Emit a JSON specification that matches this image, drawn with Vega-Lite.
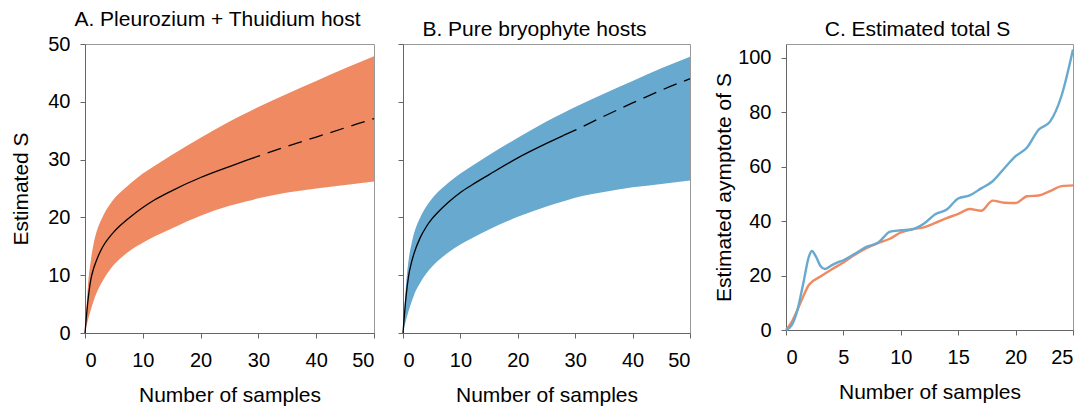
{
  "$schema": "https://vega.github.io/schema/vega-lite/v6.json",
  "padding": {"left": 10, "top": 8, "right": 5, "bottom": 0},
  "spacing": 19,
  "datasets": {
    "curves": [
      {"host": "A", "x": 0, "lo": 0, "mean": 0, "hi": 0},
      {"host": "A", "x": 0.5, "lo": 2.2, "mean": 5.5, "hi": 8},
      {"host": "A", "x": 1, "lo": 4, "mean": 9.2, "hi": 12.5},
      {"host": "A", "x": 1.5, "lo": 5.6, "mean": 11.2, "hi": 15.5},
      {"host": "A", "x": 2, "lo": 6.9, "mean": 12.6, "hi": 17.5},
      {"host": "A", "x": 3, "lo": 8.9, "mean": 14.8, "hi": 20},
      {"host": "A", "x": 4, "lo": 10.5, "mean": 16.3, "hi": 21.8},
      {"host": "A", "x": 5, "lo": 11.8, "mean": 17.5, "hi": 23.2},
      {"host": "A", "x": 6, "lo": 12.8, "mean": 18.5, "hi": 24.2},
      {"host": "A", "x": 8, "lo": 14.4, "mean": 20.2, "hi": 26},
      {"host": "A", "x": 10, "lo": 15.6, "mean": 21.7, "hi": 27.6},
      {"host": "A", "x": 12, "lo": 16.7, "mean": 23, "hi": 28.9},
      {"host": "A", "x": 15, "lo": 18.1, "mean": 24.6, "hi": 30.8},
      {"host": "A", "x": 20, "lo": 20.3, "mean": 26.9, "hi": 33.8},
      {"host": "A", "x": 25, "lo": 22, "mean": 28.8, "hi": 36.6},
      {"host": "A", "x": 28, "lo": 22.8, "mean": 29.9, "hi": 38.1},
      {"host": "A", "x": 30, "lo": 23.3, "mean": 30.6, "hi": 39.1},
      {"host": "A", "x": 35, "lo": 24.3, "mean": 32.3, "hi": 41.4},
      {"host": "A", "x": 40, "lo": 25, "mean": 33.9, "hi": 43.6},
      {"host": "A", "x": 45, "lo": 25.6, "mean": 35.5, "hi": 45.8},
      {"host": "A", "x": 50, "lo": 26.2, "mean": 37.1, "hi": 47.9},
      {"host": "B", "x": 0, "lo": 0, "mean": 0, "hi": 0},
      {"host": "B", "x": 0.5, "lo": 2.1, "mean": 6, "hi": 8},
      {"host": "B", "x": 1, "lo": 3.9, "mean": 10, "hi": 12.8},
      {"host": "B", "x": 1.5, "lo": 5.4, "mean": 12.3, "hi": 15.5},
      {"host": "B", "x": 2, "lo": 6.8, "mean": 14, "hi": 17.5},
      {"host": "B", "x": 3, "lo": 8.7, "mean": 16.5, "hi": 20},
      {"host": "B", "x": 4, "lo": 10.2, "mean": 18.3, "hi": 21.8},
      {"host": "B", "x": 5, "lo": 11.4, "mean": 19.7, "hi": 23.2},
      {"host": "B", "x": 6, "lo": 12.4, "mean": 20.8, "hi": 24.3},
      {"host": "B", "x": 8, "lo": 14, "mean": 22.7, "hi": 26.1},
      {"host": "B", "x": 10, "lo": 15.3, "mean": 24.3, "hi": 27.6},
      {"host": "B", "x": 12, "lo": 16.4, "mean": 25.6, "hi": 28.9},
      {"host": "B", "x": 15, "lo": 17.9, "mean": 27.4, "hi": 30.8},
      {"host": "B", "x": 20, "lo": 20.1, "mean": 30.3, "hi": 33.8},
      {"host": "B", "x": 25, "lo": 21.9, "mean": 32.8, "hi": 36.6},
      {"host": "B", "x": 28, "lo": 22.8, "mean": 34.2, "hi": 38.1},
      {"host": "B", "x": 30, "lo": 23.4, "mean": 35.1, "hi": 39.1},
      {"host": "B", "x": 35, "lo": 24.4, "mean": 37.5, "hi": 41.4},
      {"host": "B", "x": 40, "lo": 25.2, "mean": 39.8, "hi": 43.6},
      {"host": "B", "x": 45, "lo": 25.8, "mean": 42, "hi": 45.8},
      {"host": "B", "x": 50, "lo": 26.4, "mean": 44, "hi": 47.8}
    ],
    "asym": [
      {"host": "A", "x": 0, "S": 0},
      {"host": "A", "x": 0.5, "S": 3},
      {"host": "A", "x": 1, "S": 7.4},
      {"host": "A", "x": 1.5, "S": 12.3},
      {"host": "A", "x": 2, "S": 16.6},
      {"host": "A", "x": 3, "S": 19.6},
      {"host": "A", "x": 4, "S": 22.3},
      {"host": "A", "x": 5, "S": 24.8},
      {"host": "A", "x": 6, "S": 27.6},
      {"host": "A", "x": 7, "S": 30},
      {"host": "A", "x": 8, "S": 31.9},
      {"host": "A", "x": 9, "S": 33.4},
      {"host": "A", "x": 10, "S": 35.8},
      {"host": "A", "x": 11, "S": 37},
      {"host": "A", "x": 12, "S": 37.7},
      {"host": "A", "x": 13, "S": 39.3},
      {"host": "A", "x": 14, "S": 41.1},
      {"host": "A", "x": 15, "S": 42.6},
      {"host": "A", "x": 16, "S": 44.4},
      {"host": "A", "x": 17, "S": 43.8},
      {"host": "A", "x": 18, "S": 47.5},
      {"host": "A", "x": 19, "S": 46.7},
      {"host": "A", "x": 20, "S": 46.6},
      {"host": "A", "x": 21, "S": 49.1},
      {"host": "A", "x": 22, "S": 49.4},
      {"host": "A", "x": 23, "S": 51},
      {"host": "A", "x": 24, "S": 52.8},
      {"host": "A", "x": 25, "S": 53.1},
      {"host": "B", "x": 0, "S": 0},
      {"host": "B", "x": 0.5, "S": 1.8},
      {"host": "B", "x": 1, "S": 7.4},
      {"host": "B", "x": 1.5, "S": 17},
      {"host": "B", "x": 2, "S": 27},
      {"host": "B", "x": 2.25, "S": 29},
      {"host": "B", "x": 2.6, "S": 27},
      {"host": "B", "x": 3, "S": 23.5},
      {"host": "B", "x": 3.4, "S": 22.4},
      {"host": "B", "x": 4, "S": 23.8},
      {"host": "B", "x": 4.5, "S": 24.8},
      {"host": "B", "x": 5, "S": 25.6},
      {"host": "B", "x": 6, "S": 28},
      {"host": "B", "x": 7, "S": 30.5},
      {"host": "B", "x": 8, "S": 32},
      {"host": "B", "x": 8.5, "S": 34},
      {"host": "B", "x": 9, "S": 36},
      {"host": "B", "x": 10, "S": 36.6},
      {"host": "B", "x": 11, "S": 37},
      {"host": "B", "x": 12, "S": 39},
      {"host": "B", "x": 13, "S": 42.5},
      {"host": "B", "x": 14, "S": 44.2},
      {"host": "B", "x": 15, "S": 48.3},
      {"host": "B", "x": 16, "S": 49.4},
      {"host": "B", "x": 17, "S": 52},
      {"host": "B", "x": 18, "S": 54.6},
      {"host": "B", "x": 19, "S": 59.3},
      {"host": "B", "x": 20, "S": 63.8},
      {"host": "B", "x": 21, "S": 67},
      {"host": "B", "x": 22, "S": 73.5},
      {"host": "B", "x": 23, "S": 76.5},
      {"host": "B", "x": 24, "S": 86},
      {"host": "B", "x": 25, "S": 103}
    ]
  },
  "hconcat": [
    {
      "width": 289,
      "height": 289,
      "title": {"text": "A. Pleurozium + Thuidium host"},
      "data": {"name": "curves"},
      "transform": [{"filter": "datum.host == 'A'"}],
      "encoding": {
        "x": {"field": "x", "type": "quantitative", "scale": {"domain": [0, 50]},
              "axis": {"values": [0, 10, 20, 30, 40, 50], "title": "Number of samples"}}
      },
      "layer": [
        {
          "mark": {"type": "area", "color": "#ef8a62", "opacity": 1, "interpolate": "monotone"},
          "encoding": {
            "y": {"field": "lo", "type": "quantitative", "title": "Estimated S", "scale": {"domain": [0, 50]},
                  "axis": {"values": [0, 10, 20, 30, 40, 50], "titlePadding": 16}},
            "y2": {"field": "hi"}
          }
        },
        {
          "transform": [{"filter": "datum.x <= 28"}],
          "mark": {"type": "line", "color": "#000", "strokeWidth": 1.3, "interpolate": "monotone"},
          "encoding": {"y": {"field": "mean", "type": "quantitative", "title": "Estimated S"}}
        },
        {
          "transform": [{"filter": "datum.x >= 28"}],
          "mark": {"type": "line", "color": "#000", "strokeWidth": 1.3, "strokeDash": [14, 8], "interpolate": "monotone"},
          "encoding": {"y": {"field": "mean", "type": "quantitative", "title": "Estimated S"}}
        }
      ]
    },
    {
      "width": 287,
      "height": 289,
      "title": {"text": "B. Pure bryophyte hosts"},
      "data": {"name": "curves"},
      "transform": [{"filter": "datum.host == 'B'"}],
      "encoding": {
        "x": {"field": "x", "type": "quantitative", "scale": {"domain": [0, 50]},
              "axis": {"values": [0, 10, 20, 30, 40, 50], "title": "Number of samples"}}
      },
      "layer": [
        {
          "mark": {"type": "area", "color": "#67a9cf", "opacity": 1, "interpolate": "monotone"},
          "encoding": {
            "y": {"field": "lo", "type": "quantitative", "title": null, "scale": {"domain": [0, 50]},
                  "axis": {"values": [0, 10, 20, 30, 40, 50], "labels": false, "title": null}},
            "y2": {"field": "hi"}
          }
        },
        {
          "transform": [{"filter": "datum.x <= 28"}],
          "mark": {"type": "line", "color": "#000", "strokeWidth": 1.3, "interpolate": "monotone"},
          "encoding": {"y": {"field": "mean", "type": "quantitative", "title": null}}
        },
        {
          "transform": [{"filter": "datum.x >= 28"}],
          "mark": {"type": "line", "color": "#000", "strokeWidth": 1.3, "strokeDash": [14, 8], "interpolate": "monotone"},
          "encoding": {"y": {"field": "mean", "type": "quantitative", "title": null}}
        }
      ]
    },
    {
      "width": 287,
      "height": 286,
      "title": {"text": "C. Estimated total S"},
      "data": {"name": "asym"},
      "mark": {"type": "line", "strokeWidth": 2.4, "interpolate": "monotone"},
      "encoding": {
        "x": {"field": "x", "type": "quantitative", "scale": {"domain": [0, 25]},
              "axis": {"values": [0, 5, 10, 15, 20, 25], "title": "Number of samples"}},
        "y": {"field": "S", "type": "quantitative", "scale": {"domain": [0, 105], "nice": false},
              "axis": {"values": [0, 20, 40, 60, 80, 100], "title": "Estimated aymptote of S", "titlePadding": 3}},
        "color": {"field": "host", "type": "nominal",
                  "scale": {"domain": ["A", "B"], "range": ["#ef8a62", "#67a9cf"]}, "legend": null}
      }
    }
  ],
  "config": {
    "font": "Liberation Sans",
    "view": {"stroke": "#999"},
    "axis": {
      "grid": false,
      "domainColor": "#666",
      "tickColor": "#666",
      "tickSize": 5,
      "labelFontSize": 20,
      "labelColor": "#000",
      "titleFontSize": 21,
      "titleFontWeight": "normal",
      "titleColor": "#000"
    },
    "axisX": {"labelPadding": 12, "titlePadding": 14},
    "axisY": {"labelPadding": 10, "titlePadding": 13},
    "title": {
      "fontSize": 21,
      "fontWeight": "normal",
      "color": "#000",
      "frame": "group",
      "offset": 4,
      "baseline": "alphabetic",
      "dx": -12
    }
  }
}
